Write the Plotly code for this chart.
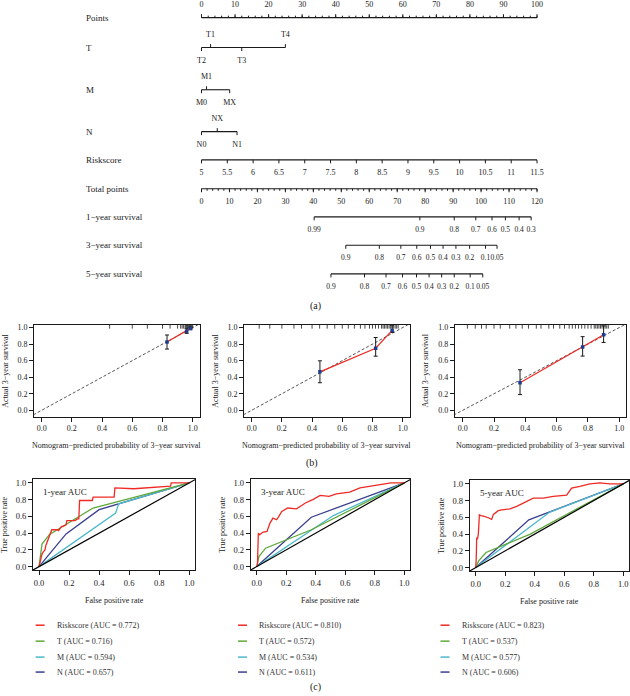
import plotly.graph_objects as go

W, H = 630, 696
FONT = "Liberation Serif, 'Times New Roman', serif"
INK = "#1a1a1a"
RED, GREEN, CYAN, NAVY = "#ee2a24", "#5fa83b", "#4fb8cc", "#3b3f8f"

# ---------------- (a) nomogram data ----------------
points_major = list(range(0, 101, 10))
points_minor = list(range(0, 101, 2))
T_labels = ["T2", "T1", "T3", "T4"]
T_points = [0.0, 2.7, 12.0, 25.0]
T_above = [False, True, False, True]
M_labels = ["M0", "M1", "MX"]
M_points = [0.0, 1.5, 8.4]
M_above = [False, True, False]
N_labels = ["N0", "NX", "N1"]
N_points = [0.0, 4.7, 10.6]
N_above = [False, True, False]
risk_values = [5, 5.5, 6, 6.5, 7, 7.5, 8, 8.5, 9, 9.5, 10, 10.5, 11, 11.5]
RISK_MIN, RISK_MAX = 5.0, 11.5          # riskscore giving 0 and 100 points
total_major = list(range(0, 121, 10))
total_minor = list(range(0, 121, 2))
surv1_labels = ["0.99", "0.9", "0.8", "0.7", "0.6", "0.5", "0.4", "0.3"]
surv1_total = [40.3, 78.1, 90.4, 98.1, 103.9, 108.7, 113.6, 117.9]
surv3_labels = ["0.9", "0.8", "0.7", "0.6", "0.5", "0.4", "0.3", "0.2", "0.1", "0.05"]
surv3_total = [51.6, 63.6, 71.3, 77.0, 81.9, 86.4, 91.0, 95.9, 101.6, 105.7]
surv5_labels = ["0.9", "0.8", "0.7", "0.6", "0.5", "0.4", "0.3", "0.2", "0.1", "0.05"]
surv5_total = [46.3, 58.3, 66.0, 71.9, 76.9, 81.4, 85.9, 90.4, 96.1, 100.6]

# ---------------- (b) calibration data ----------------
ideal = [-0.2, 1.2]
cal1_pred = [0.830, 0.960, 0.985]
cal1_obs = [0.825, 0.955, 0.990]
cal1_lo = [0.740, 0.930, 0.975]
cal1_hi = [0.910, 0.985, 1.005]
cal1_rug = [0.45, 0.60, 0.70, 0.80, 0.85, 0.90, 0.92, 0.93, 0.94, 0.95, 0.955, 0.96,
            0.965, 0.97, 0.975, 0.98, 0.985, 0.99, 0.995, 1.0]
cal2_pred = [0.452, 0.821, 0.930]
cal2_obs = [0.465, 0.750, 0.965]
cal2_lo = [0.333, 0.654, 0.940]
cal2_hi = [0.598, 0.880, 1.030]
cal2_rug = [0.05, 0.12, 0.20, 0.28, 0.33, 0.40, 0.45, 0.50, 0.55, 0.60, 0.64, 0.68, 0.72,
            0.75, 0.78, 0.80, 0.82, 0.84, 0.86, 0.87, 0.88, 0.89, 0.90, 0.91, 0.92, 0.93,
            0.94, 0.95, 0.96, 0.97]
cal3_pred = [0.366, 0.766, 0.900]
cal3_obs = [0.333, 0.765, 0.914]
cal3_lo = [0.190, 0.655, 0.820]
cal3_hi = [0.490, 0.890, 1.020]
cal3_rug = [0.03, 0.08, 0.12, 0.15, 0.20, 0.24, 0.30, 0.34, 0.38, 0.42, 0.47, 0.50, 0.55,
            0.58, 0.62, 0.65, 0.68, 0.70, 0.72, 0.74, 0.76, 0.78, 0.80, 0.82, 0.84, 0.85,
            0.86, 0.87, 0.88, 0.89, 0.90, 0.91, 0.92, 0.93]

# ---------------- (c) ROC data ----------------
series_names = ["Riskscore", "T", "M", "N"]
series_colors = [RED, GREEN, CYAN, NAVY]
auc_1y = [0.772, 0.716, 0.594, 0.657]
auc_3y = [0.810, 0.572, 0.534, 0.611]
auc_5y = [0.823, 0.537, 0.577, 0.606]

roc1_risk_fpr = [0, 0.005, 0.015, 0.02, 0.03, 0.04, 0.045, 0.055, 0.06, 0.07, 0.08, 0.085,
                 0.12, 0.13, 0.15, 0.16, 0.18, 0.185, 0.24, 0.255, 0.265, 0.27, 0.355, 0.36,
                 0.50, 0.505, 0.63, 0.78, 0.875, 0.88, 1.0]
roc1_risk_tpr = [0, 0.05, 0.10, 0.15, 0.18, 0.20, 0.25, 0.30, 0.32, 0.35, 0.42, 0.44,
                 0.44, 0.43, 0.48, 0.48, 0.50, 0.55, 0.55, 0.57, 0.57, 0.79, 0.79, 0.83,
                 0.83, 0.94, 0.93, 0.95, 0.96, 1.00, 1.00]
roc1_T_fpr = [0, 0.02, 0.07, 0.36, 1.0]
roc1_T_tpr = [0, 0.27, 0.385, 0.70, 1.0]
roc1_M_fpr = [0, 0.51, 0.53, 1.0]
roc1_M_tpr = [0, 0.64, 0.75, 1.0]
roc1_N_fpr = [0, 0.18, 0.40, 1.0]
roc1_N_tpr = [0, 0.39, 0.68, 1.0]

roc3_risk_fpr = [0, 0.005, 0.011, 0.02, 0.04, 0.07, 0.08, 0.09, 0.11, 0.135, 0.15, 0.17,
                 0.21, 0.27, 0.33, 0.38, 0.43, 0.49, 0.54, 0.63, 0.70, 0.77, 0.86, 0.91, 1.0]
roc3_risk_tpr = [0, 0.02, 0.40, 0.38, 0.41, 0.42, 0.47, 0.52, 0.58, 0.56, 0.60, 0.66,
                 0.70, 0.69, 0.76, 0.80, 0.85, 0.84, 0.87, 0.89, 0.94, 0.96, 0.99, 1.0, 1.0]
roc3_T_fpr = [0, 0.015, 0.06, 0.37, 1.0]
roc3_T_tpr = [0, 0.12, 0.22, 0.44, 1.0]
roc3_M_fpr = [0, 0.52, 1.0]
roc3_M_tpr = [0, 0.61, 1.0]
roc3_N_fpr = [0, 0.37, 1.0]
roc3_N_tpr = [0, 0.59, 1.0]

roc5_risk_fpr = [0, 0.003, 0.007, 0.012, 0.018, 0.025, 0.035, 0.052, 0.086, 0.108, 0.12,
                 0.153, 0.176, 0.233, 0.278, 0.323, 0.39, 0.458, 0.526, 0.616, 0.65, 0.706,
                 0.774, 0.84, 0.91, 1.0]
roc5_risk_tpr = [0, 0.08, 0.36, 0.34, 0.40, 0.63, 0.62, 0.615, 0.595, 0.575, 0.635,
                 0.68, 0.69, 0.70, 0.73, 0.77, 0.83, 0.83, 0.85, 0.865, 0.95, 0.97,
                 1.0, 1.01, 1.0, 1.0]
roc5_T_fpr = [0, 0.02, 0.07, 0.37, 1.0]
roc5_T_tpr = [0, 0.08, 0.18, 0.40, 1.0]
roc5_M_fpr = [0, 0.50, 1.0]
roc5_M_tpr = [0, 0.66, 1.0]
roc5_N_fpr = [0, 0.36, 1.0]
roc5_N_tpr = [0, 0.57, 1.0]

axis_ticks = [0.0, 0.2, 0.4, 0.6, 0.8, 1.0]
axis_ticktext = [f"{v:.1f}" for v in axis_ticks]

# ---------------- layout geometry (pixels) ----------------
P0, PPX = 201.5, 3.355           # pixel of 0 points, pixels per point
ROW_X = 84
ROW_Y = dict(points=16.7, T=46.7, M=89.0, N=131.0, risk=159.3, total=188.3,
             s1=216.5, s3=245.0, s5=273.7)
LAB = 13.0

CAL_X = [(34.1, 199.5), (244.1, 409.5), (454.9, 626.3)]
CAL_Y = (324.6, 416.7)
ROC_X = [(33.0, 195.3), (250.8, 410.2), (469.8, 629.2)]
ROC_Y = [(479.1, 571.0), (479.1, 571.0), (480.0, 572.0)]
LEG_X = [35.6, 238.0, 440.5]
LEG_Y = [626, 642, 658, 673]


def px(x):
    return x / W


def py(y):
    return 1 - y / H


fig = go.Figure()
annotations = []
shapes = []


def add_lines(xs, ys, xa, width=1.1, color=INK):
    fig.add_trace(go.Scatter(x=xs, y=ys, xaxis=xa, yaxis="y", mode="lines",
                             line=dict(color=color, width=width), hoverinfo="skip",
                             showlegend=False))


def add_ticks(vals, y0, ln, xa, width=1.0):
    xs, ys = [], []
    for v in vals:
        xs += [v, v, None]
        ys += [y0, y0 + ln, None]
    add_lines(xs, ys, xa, width)


def add_text(xs, ys, texts, xa, size=8):
    fig.add_trace(go.Scatter(x=xs, y=ys, text=texts, xaxis=xa, yaxis="y", mode="text",
                             textposition="middle center", cliponaxis=False,
                             textfont=dict(family=FONT, size=size, color=INK),
                             hoverinfo="skip", showlegend=False))


def row_title(text, y):
    annotations.append(dict(x=px(ROW_X), y=y, xref="paper", yref="y", text=text,
                            showarrow=False, xanchor="left", yanchor="middle",
                            font=dict(family=FONT, size=9, color=INK)))


# Points
Y = ROW_Y["points"]
add_lines([0, 100], [Y, Y], "x")
add_ticks(points_minor, Y, -2.0, "x")
add_ticks(points_major, Y, -3.5, "x")
add_text(points_major, [Y - 12.5] * len(points_major), [str(v) for v in points_major], "x")
row_title("Points", Y)

# categorical rows
for key, labels, vals, above in [("T", T_labels, T_points, T_above),
                                 ("M", M_labels, M_points, M_above),
                                 ("N", N_labels, N_points, N_above)]:
    Y = ROW_Y[key]
    add_lines([min(vals), max(vals)], [Y, Y], "x")
    for lab, v, ab in zip(labels, vals, above):
        add_ticks([v], Y, -3.5 if ab else 3.5, "x")
    add_text(vals, [Y - LAB if ab else Y + LAB for ab in above], labels, "x")
    row_title(key, Y)

# Riskscore
Y = ROW_Y["risk"]
add_lines([min(risk_values), max(risk_values)], [Y, Y], "x3", width=1.3)
add_ticks(risk_values, Y, 3.5, "x3")
add_text(risk_values, [Y + LAB] * len(risk_values), [f"{v:g}" for v in risk_values], "x3")
row_title("Riskscore", Y)

# Total points
Y = ROW_Y["total"]
add_lines([0, 120], [Y, Y], "x2")
add_ticks(total_minor, Y, 2.0, "x2")
add_ticks(total_major, Y, 3.5, "x2")
add_text(total_major, [Y + LAB] * len(total_major), [str(v) for v in total_major], "x2")
row_title("Total points", Y)

for key, title, labels, vals in [("s1", "1\u2212year survival", surv1_labels, surv1_total),
                                 ("s3", "3\u2212year survival", surv3_labels, surv3_total),
                                 ("s5", "5\u2212year survival", surv5_labels, surv5_total)]:
    Y = ROW_Y[key]
    add_lines([min(vals), max(vals)], [Y, Y], "x2")
    add_ticks(vals, Y, 3.5, "x2")
    add_text(vals, [Y + LAB] * len(vals), labels, "x2", size=7.5)
    row_title(title, Y)

# ---------------- calibration panels ----------------
cal_sets = [(cal1_pred, cal1_obs, cal1_lo, cal1_hi, cal1_rug),
            (cal2_pred, cal2_obs, cal2_lo, cal2_hi, cal2_rug),
            (cal3_pred, cal3_obs, cal3_lo, cal3_hi, cal3_rug)]
for i, (pred, obs, lo, hi, rug) in enumerate(cal_sets):
    xa, ya = f"x{4 + i}", f"y{4 + i}"
    fig.add_trace(go.Scatter(x=ideal, y=ideal, xaxis=xa, yaxis=ya, mode="lines",
                             line=dict(color="#555555", width=1, dash="3px,2px"),
                             hoverinfo="skip", showlegend=False))
    fig.add_trace(go.Scatter(x=rug, y=[1.012] * len(rug), xaxis=xa, yaxis=ya, mode="markers",
                             marker=dict(symbol="line-ns", size=3,
                                         line=dict(width=0.8, color=INK)),
                             hoverinfo="skip", showlegend=False))
    fig.add_trace(go.Scatter(x=pred, y=obs, xaxis=xa, yaxis=ya, mode="lines+markers",
                             line=dict(color=RED, width=1.2),
                             marker=dict(symbol="square", size=3.5, color="#1d3c8f"),
                             error_y=dict(type="data", symmetric=False,
                                          array=[h - o for h, o in zip(hi, obs)],
                                          arrayminus=[o - l for o, l in zip(obs, lo)],
                                          color=INK, thickness=1, width=2),
                             hoverinfo="skip", showlegend=False))

# ---------------- ROC panels ----------------
roc_sets = [
    ([(roc1_risk_fpr, roc1_risk_tpr), (roc1_T_fpr, roc1_T_tpr), (roc1_M_fpr, roc1_M_tpr),
      (roc1_N_fpr, roc1_N_tpr)], auc_1y, "1-year AUC"),
    ([(roc3_risk_fpr, roc3_risk_tpr), (roc3_T_fpr, roc3_T_tpr), (roc3_M_fpr, roc3_M_tpr),
      (roc3_N_fpr, roc3_N_tpr)], auc_3y, "3-year AUC"),
    ([(roc5_risk_fpr, roc5_risk_tpr), (roc5_T_fpr, roc5_T_tpr), (roc5_M_fpr, roc5_M_tpr),
      (roc5_N_fpr, roc5_N_tpr)], auc_5y, "5-year AUC"),
]
draw_order = [3, 2, 1, 0]
for i, (curves, aucs, label) in enumerate(roc_sets):
    xa, ya = f"x{7 + i}", f"y{7 + i}"
    for j in draw_order:
        fx, ty = curves[j]
        fig.add_trace(go.Scatter(x=fx, y=ty, xaxis=xa, yaxis=ya, mode="lines",
                                 line=dict(color=series_colors[j], width=1.3),
                                 hoverinfo="skip", showlegend=False))
    fig.add_trace(go.Scatter(x=ideal, y=ideal, xaxis=xa, yaxis=ya, mode="lines",
                             line=dict(color="black", width=1.2),
                             hoverinfo="skip", showlegend=False))
    annotations.append(dict(x=0.015, y=0.89, xref=xa, yref=ya, text=label, showarrow=False,
                            xanchor="left", yanchor="middle",
                            font=dict(family=FONT, size=9, color=INK)))
    L = LEG_X[i]
    for j, (name, col, auc) in enumerate(zip(series_names, series_colors, aucs)):
        yy = LEG_Y[j]
        shapes.append(dict(type="line", xref="paper", yref="paper", x0=px(L),
                           x1=px(L + 9), y0=py(yy), y1=py(yy),
                           line=dict(color=col, width=1.5)))
        annotations.append(dict(x=px(L + 19), y=py(yy), xref="paper", yref="paper",
                                text=f"{name} (AUC = {auc:.3f})", showarrow=False,
                                xanchor="left", yanchor="middle",
                                font=dict(family=FONT, size=8, color="#333333")))

# ---------------- axes ----------------
hidden = dict(visible=False, showgrid=False, zeroline=False, fixedrange=True)
pr = [-P0 / PPX, (W - P0) / PPX]
layout_axes = dict(
    xaxis=dict(domain=[0, 1], range=pr, anchor="y", **hidden),
    yaxis=dict(domain=[0, 1], range=[H, 0], anchor="x", **hidden),
    xaxis2=dict(range=[v * 1.2 for v in pr], overlaying="x", anchor="y", **hidden),
    xaxis3=dict(range=[RISK_MIN + v * (RISK_MAX - RISK_MIN) / 100 for v in pr],
                overlaying="x", anchor="y", **hidden),
)


def box_axis(domain, rng, anchor, size):
    return dict(domain=domain, range=rng, anchor=anchor, showline=True, mirror=True,
                linecolor=INK, linewidth=1, ticks="outside", ticklen=4, tickwidth=1,
                tickcolor=INK, tickvals=axis_ticks, ticktext=axis_ticktext,
                tickfont=dict(family=FONT, size=size, color=INK), showgrid=False,
                zeroline=False, fixedrange=True)


for i in range(3):
    l, r = CAL_X[i]
    t, b = CAL_Y
    n = 4 + i
    layout_axes[f"xaxis{n}"] = box_axis([px(l), px(r)], [-0.05, 1.045], f"y{n}", 8)
    layout_axes[f"yaxis{n}"] = box_axis([py(b), py(t)], [-0.075, 1.035], f"x{n}", 8)
    annotations.append(dict(x=px((l + r) / 2), y=py(445.5), xref="paper", yref="paper",
                            text="Nomogram\u2212predicted probability of 3\u2212year survival",
                            showarrow=False, xanchor="center", yanchor="middle",
                            font=dict(family=FONT, size=8, color=INK)))
    annotations.append(dict(x=px(l - 29), y=py((t + b) / 2), xref="paper", yref="paper",
                            text="Actual 3\u2212year survival", textangle=-90,
                            showarrow=False, xanchor="center", yanchor="middle",
                            font=dict(family=FONT, size=8, color=INK)))

for i in range(3):
    l, r = ROC_X[i]
    t, b = ROC_Y[i]
    n = 7 + i
    layout_axes[f"xaxis{n}"] = box_axis([px(l), px(r)], [-0.04, 1.04], f"y{n}", 8.5)
    layout_axes[f"yaxis{n}"] = box_axis([py(b), py(t)], [-0.045, 1.05], f"x{n}", 8.5)
    annotations.append(dict(x=px((l + r) / 2), y=py(b + 30), xref="paper", yref="paper",
                            text="False positive rate", showarrow=False,
                            xanchor="center", yanchor="middle",
                            font=dict(family=FONT, size=8, color=INK)))
    annotations.append(dict(x=px(l - 28.5), y=py((t + b) / 2), xref="paper", yref="paper",
                            text="True positive rate", textangle=-90, showarrow=False,
                            xanchor="center", yanchor="middle",
                            font=dict(family=FONT, size=8, color=INK)))

for text, x, y in [("(a)", 315, 305.5), ("(b)", 312, 463.3), ("(c)", 315, 687.5)]:
    annotations.append(dict(x=px(x), y=py(y), xref="paper", yref="paper", text=text,
                            showarrow=False, xanchor="center", yanchor="middle",
                            font=dict(family=FONT, size=10, color=INK)))

fig.update_layout(width=W, height=H, autosize=False, margin=dict(l=0, r=0, t=0, b=0),
                  paper_bgcolor="white", plot_bgcolor="white", showlegend=False,
                  hovermode=False, annotations=annotations, shapes=shapes, **layout_axes)

fig.write_html("out.html", config={"displayModeBar": False, "staticPlot": True},
               post_script="document.body.style.margin='0px';"
                           "document.body.style.overflow='hidden';")
